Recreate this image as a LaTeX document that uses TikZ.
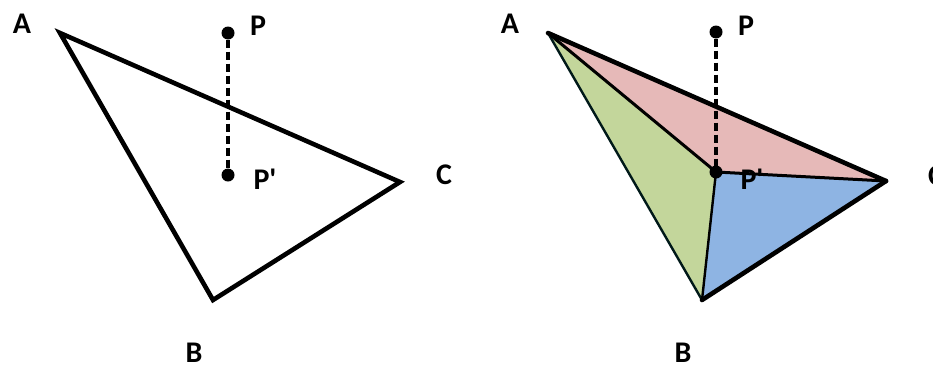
\documentclass[tikz,border=0pt]{standalone}
\usepackage{fontspec}
\setmainfont{Carlito}
\begin{document}
\begin{tikzpicture}[x=1pt,y=-1pt,
  lbl/.style={font=\bfseries\fontsize{30}{30}\selectfont, inner sep=0pt},
  dot/.style={circle, fill=black, inner sep=0pt, minimum size=13pt},
  edge/.style={line width=4.6pt, line join=miter, line cap=round},
  thinedge/.style={line width=3pt, line cap=round},
  proj/.style={line width=3.2pt, dash pattern=on 8pt off 4pt}]
\useasboundingbox (0,0) rectangle (933,373);
\fill[white] (0,0) rectangle (933,373);
% ---------- left
\coordinate (A1) at (60,33);
\coordinate (B1) at (213,300);
\coordinate (C1) at (400,182);
\node[dot] (P1) at (228,33) {};
\node[dot] (Q1) at (228,175) {};
\draw[edge] (A1) -- (B1) -- (C1) -- cycle;
\draw[proj] (P1) -- (Q1);
\node[lbl] (lA1) at (22,24) {A};
\node[lbl] (lP1) at (258,26) {P};
\node[lbl] (lQ1) at (265,179) {P\textquotesingle};
\node[lbl] (lC1) at (444,175) {C};
\node[lbl] (lB1) at (194,353) {B};
% ---------- right
\definecolor{pinkf}{HTML}{E6B9B8}
\definecolor{greenf}{HTML}{C3D69B}
\definecolor{bluef}{HTML}{8EB4E3}
\coordinate (A2) at (548,33);
\coordinate (B2) at (702,300);
\coordinate (C2) at (886,181);
\node[dot] (P2) at (716,32) {};
\coordinate (Q2) at (716,172);
\fill[pinkf] (A2) -- (Q2) -- (C2) -- cycle;
\fill[greenf] (A2) -- (B2) -- (Q2) -- cycle;
\fill[bluef] (Q2) -- (B2) -- (C2) -- cycle;
\node[lbl] (lQ2) at (752,179) {P\textquotesingle};
\draw[line width=2.4pt, black!80!teal] (A2) -- (B2);
\draw[line width=2.4pt] (B2) -- (Q2);
\draw[thinedge] (A2) -- (Q2) -- (C2);
\draw[edge] (C2) -- (A2);
\draw[edge] (B2) -- (C2);
\draw[proj] (P2) -- (Q2);
\node[dot] (Q2d) at (Q2) {};
\node[lbl] (lA2) at (510,24) {A};
\node[lbl] (lP2) at (746,26) {P};
\node[lbl] (lC2) at (936,176) {C};
\node[lbl] (lB2) at (683,353) {B};
\end{tikzpicture}
\end{document}
